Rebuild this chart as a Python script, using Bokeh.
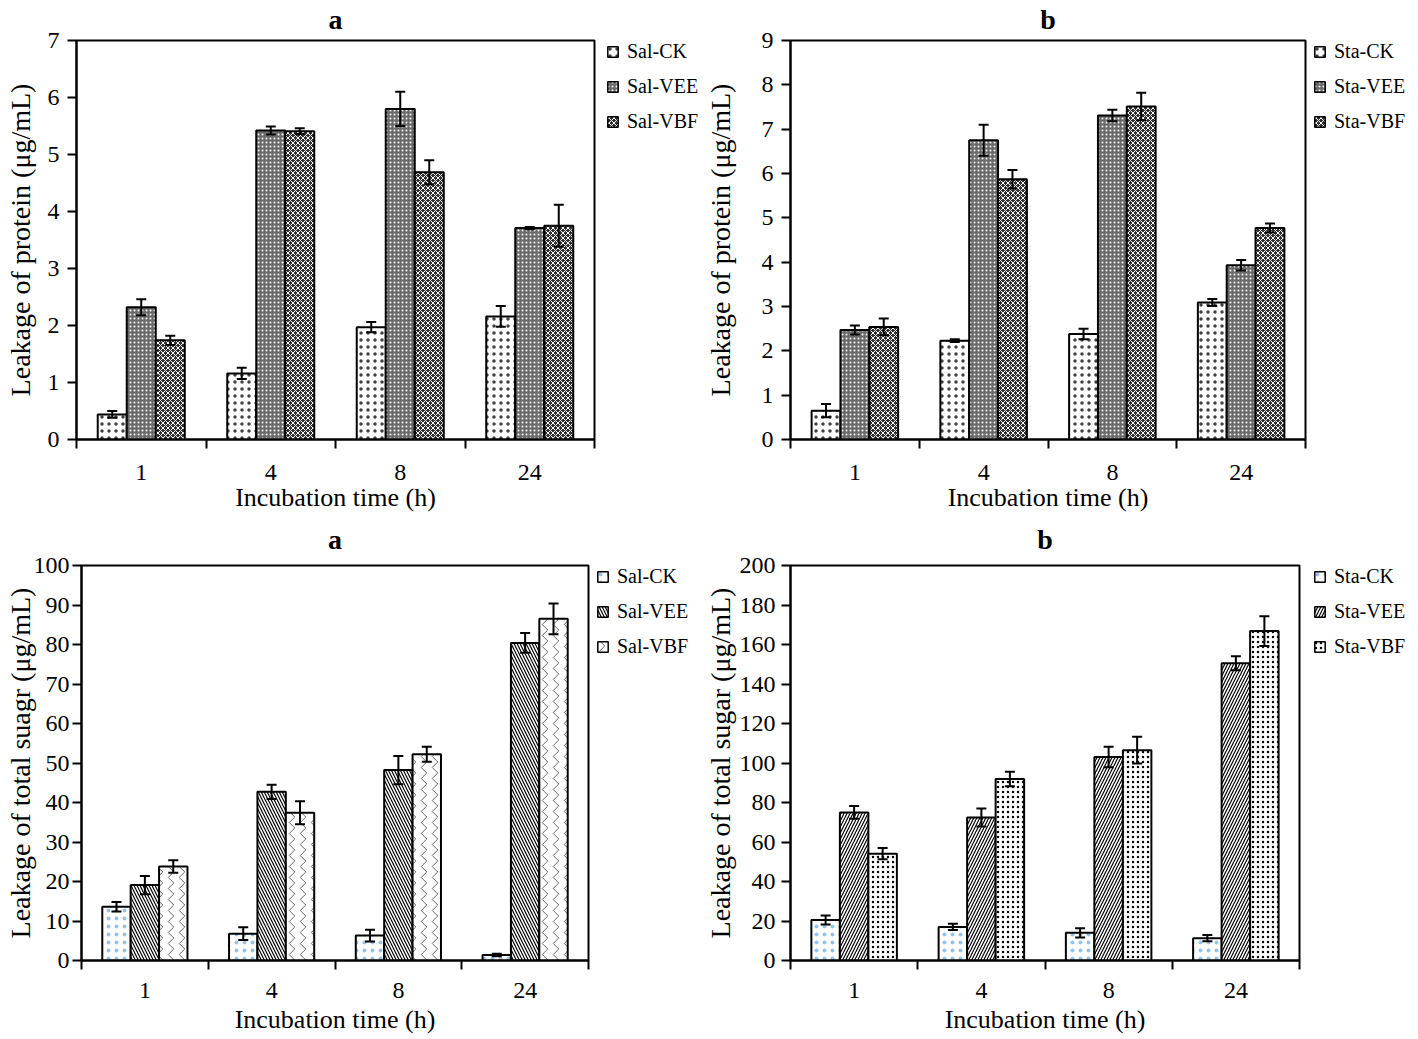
from bokeh.plotting import figure
from bokeh.models import (Range1d, FixedTicker, ColumnDataSource, Whisker,
                          Legend, LegendItem)
from bokeh.layouts import column, row
from bokeh.embed import file_html
from bokeh.resources import INLINE

FONT = "Liberation Serif"

times = ["1", "4", "8", "24"]

# ---- (a) protein, Salmonella ----
sal_protein_names = ["Sal-CK", "Sal-VEE", "Sal-VBF"]
sal_protein_ck = [0.44, 1.16, 1.97, 2.16]
sal_protein_ck_err = [0.06, 0.10, 0.09, 0.18]
sal_protein_vee = [2.32, 5.42, 5.80, 3.71]
sal_protein_vee_err = [0.14, 0.07, 0.30, 0.02]
sal_protein_vbf = [1.74, 5.41, 4.69, 3.75]
sal_protein_vbf_err = [0.08, 0.05, 0.21, 0.37]

# ---- (b) protein, Staphylococcus ----
sta_protein_names = ["Sta-CK", "Sta-VEE", "Sta-VBF"]
sta_protein_ck = [0.65, 2.23, 2.38, 3.09]
sta_protein_ck_err = [0.15, 0.03, 0.12, 0.08]
sta_protein_vee = [2.47, 6.75, 7.31, 3.93]
sta_protein_vee_err = [0.10, 0.35, 0.13, 0.12]
sta_protein_vbf = [2.54, 5.87, 7.51, 4.77]
sta_protein_vbf_err = [0.19, 0.21, 0.31, 0.10]

# ---- (a) total sugar, Salmonella ----
sal_sugar_names = ["Sal-CK", "Sal-VEE", "Sal-VBF"]
sal_sugar_ck = [13.6, 6.8, 6.3, 1.4]
sal_sugar_ck_err = [1.2, 1.6, 1.5, 0.3]
sal_sugar_vee = [19.1, 42.7, 48.2, 80.4]
sal_sugar_vee_err = [2.3, 1.8, 3.6, 2.5]
sal_sugar_vbf = [23.8, 37.4, 52.2, 86.5]
sal_sugar_vbf_err = [1.6, 2.9, 1.9, 3.9]

# ---- (b) total sugar, Staphylococcus ----
sta_sugar_names = ["Sta-CK", "Sta-VEE", "Sta-VBF"]
sta_sugar_ck = [20.5, 17.0, 14.0, 11.3]
sta_sugar_ck_err = [2.3, 1.6, 2.3, 1.6]
sta_sugar_vee = [75.0, 72.4, 103.0, 150.5]
sta_sugar_vee_err = [3.2, 4.5, 5.2, 3.5]
sta_sugar_vbf = [54.1, 91.9, 106.5, 166.8]
sta_sugar_vbf_err = [2.8, 3.7, 6.8, 7.5]

protein_styles = [
    dict(fill_color="white", hatch_pattern="dot", hatch_color="black", hatch_scale=7, hatch_alpha=0.75),
    dict(fill_color="#6a6a6a", hatch_pattern="dot", hatch_color="white", hatch_scale=4, hatch_weight=1.2),
    dict(fill_color="#303030", hatch_pattern="diagonal_cross", hatch_color="white", hatch_scale=5, hatch_weight=1.0),
]
sal_sugar_styles = [
    dict(fill_color="white", hatch_pattern="dot", hatch_color="#6fa8dc", hatch_scale=8, hatch_alpha=0.7),
    dict(fill_color="white", hatch_pattern="left_diagonal_line", hatch_color="black", hatch_scale=6, hatch_weight=1.2),
    dict(fill_color="white", hatch_pattern="vertical_wave", hatch_color="black", hatch_scale=11, hatch_weight=0.6),
]
sta_sugar_styles = [
    dict(fill_color="white", hatch_pattern="dot", hatch_color="#6fa8dc", hatch_scale=8, hatch_alpha=0.7),
    dict(fill_color="white", hatch_pattern="right_diagonal_line", hatch_color="black", hatch_scale=6, hatch_weight=1.2),
    dict(fill_color="white", hatch_pattern="dot", hatch_color="black", hatch_scale=5, hatch_weight=1.0),
]

BW = 0.224


def make_sources(vals, errs):
    centers = list(range(len(times)))
    offsets = [-BW, 0.0, BW]
    srcs = []
    for k in range(3):
        srcs.append(ColumnDataSource(dict(
            x=[c + offsets[k] for c in centers], top=vals[k],
            upper=[v + e for v, e in zip(vals[k], errs[k])],
            lower=[v - e for v, e in zip(vals[k], errs[k])])))
    return srcs


def panel(w, h, bl, br, bt, bb, ymax, ystep, ylabel, title, title_standoff,
          srcs, styles,
          ytick_standoff, ylabel_standoff, xtick_standoff, xlabel_standoff):
    p = figure(width=w, height=h, x_range=Range1d(-0.5, 3.5), y_range=Range1d(0, ymax),
               output_backend="svg", toolbar_location=None,
               min_border_left=bl, min_border_right=br,
               min_border_top=bt, min_border_bottom=bb)
    p.xgrid.visible = False
    p.ygrid.visible = False
    p.outline_line_color = "black"
    p.outline_line_width = 2
    p.outline_line_alpha = 1
    p.background_fill_color = "white"
    p.border_fill_color = "white"

    p.title.text = title
    p.title.align = "center"
    p.title.vertical_align = "top"
    p.title.text_font = FONT
    p.title.text_font_style = "bold"
    p.title.text_font_size = "28px"
    p.title.text_color = "black"
    p.title.standoff = title_standoff

    for k in range(3):
        p.vbar(x="x", top="top", bottom=0, width=BW, source=srcs[k],
               line_color="black", line_width=2, **styles[k])
        wk = Whisker(base="x", upper="upper", lower="lower", source=srcs[k],
                     line_color="black", line_width=2, level="overlay")
        wk.upper_head.size = 10
        wk.upper_head.line_width = 2
        wk.lower_head.size = 10
        wk.lower_head.line_width = 2
        p.add_layout(wk)

    centers = list(range(len(times)))
    xa = p.xaxis[0]
    xa.ticker = FixedTicker(ticks=centers, minor_ticks=[-0.5, 0.5, 1.5, 2.5, 3.5])
    xa.major_label_overrides = {i: t for i, t in enumerate(times)}
    xa.major_tick_line_color = None
    xa.minor_tick_in = 0
    xa.minor_tick_out = 9
    xa.minor_tick_line_width = 2
    xa.minor_tick_line_color = "black"
    xa.axis_line_width = 2
    xa.axis_line_color = "black"
    xa.major_label_text_font = FONT
    xa.major_label_text_font_size = "24px"
    xa.major_label_text_color = "black"
    xa.major_label_standoff = xtick_standoff
    xa.axis_label = "Incubation time (h)"
    xa.axis_label_text_font = FONT
    xa.axis_label_text_font_style = "normal"
    xa.axis_label_text_font_size = "26px"
    xa.axis_label_text_color = "black"
    xa.axis_label_standoff = xlabel_standoff

    ya = p.yaxis[0]
    ya.ticker = FixedTicker(ticks=list(range(0, ymax + 1, ystep)))
    ya.minor_tick_line_color = None
    ya.major_tick_in = 0
    ya.major_tick_out = 9
    ya.major_tick_line_width = 2
    ya.major_tick_line_color = "black"
    ya.axis_line_width = 2
    ya.axis_line_color = "black"
    ya.major_label_text_font = FONT
    ya.major_label_text_font_size = "24px"
    ya.major_label_text_color = "black"
    ya.major_label_standoff = ytick_standoff
    ya.axis_label = ylabel
    ya.axis_label_text_font = FONT
    ya.axis_label_text_font_style = "normal"
    ya.axis_label_text_font_size = "28px"
    ya.axis_label_text_color = "black"
    ya.axis_label_standoff = ylabel_standoff
    return p


def legend_box(w, h, xoff, bt, bb, names, srcs, styles):
    # side box that only holds the legend; its bar renderers are hidden and
    # serve solely as the legend swatches
    lg = figure(width=w, height=h, x_range=Range1d(-0.5, 3.5), y_range=Range1d(0, 1),
                output_backend="svg", toolbar_location=None,
                x_axis_type=None, y_axis_type=None,
                min_border_left=xoff, min_border_right=0,
                min_border_top=bt, min_border_bottom=bb)
    lg.xgrid.visible = False
    lg.ygrid.visible = False
    lg.outline_line_color = None
    lg.background_fill_color = "white"
    lg.border_fill_color = "white"
    items = []
    for k in range(3):
        r = lg.vbar(x="x", top="top", bottom=0, width=BW, source=srcs[k],
                    line_color="black", line_width=1.5, **styles[k])
        r.visible = False
        items.append(LegendItem(label=names[k], renderers=[r]))
    legend = Legend(items=items, location="top_left",
                    border_line_color=None, background_fill_alpha=0,
                    padding=0, margin=0, spacing=12,
                    glyph_width=13, glyph_height=13, label_height=20,
                    label_standoff=8, label_text_font=FONT,
                    label_text_font_size="20px", label_text_color="black")
    lg.add_layout(legend)
    return lg


s1 = make_sources([sal_protein_ck, sal_protein_vee, sal_protein_vbf],
                  [sal_protein_ck_err, sal_protein_vee_err, sal_protein_vbf_err])
s2 = make_sources([sta_protein_ck, sta_protein_vee, sta_protein_vbf],
                  [sta_protein_ck_err, sta_protein_vee_err, sta_protein_vbf_err])
s3 = make_sources([sal_sugar_ck, sal_sugar_vee, sal_sugar_vbf],
                  [sal_sugar_ck_err, sal_sugar_vee_err, sal_sugar_vbf_err])
s4 = make_sources([sta_sugar_ck, sta_sugar_vee, sta_sugar_vbf],
                  [sta_sugar_ck_err, sta_sugar_vee_err, sta_sugar_vbf_err])

p1 = panel(596, 514, 76, 2, 40, 74, 7, 1, "Leakage of protein (μg/mL)", "a", 7,
           s1, protein_styles, 8, 9, 16, 0)
l1 = legend_box(104, 514, 10, 40, 74, sal_protein_names, s1, protein_styles)
p2 = panel(607, 514, 90, 2, 40, 74, 9, 1, "Leakage of protein (μg/mL)", "b", 7,
           s2, protein_styles, 8, 23, 16, 0)
l2 = legend_box(103, 514, 6, 40, 74, sta_protein_names, s2, protein_styles)
p3 = panel(590, 522, 81, 2, 51, 76, 100, 10, "Leakage of total suagr (μg/mL)", "a", 18,
           s3, sal_sugar_styles, 3, -5, 13, 4)
l3 = legend_box(110, 522, 6, 51, 76, sal_sugar_names, s3, sal_sugar_styles)
p4 = panel(601, 522, 90, 2, 51, 76, 200, 20, "Leakage of total sugar (μg/mL)", "b", 18,
           s4, sta_sugar_styles, 6, 1, 13, 4)
l4 = legend_box(109, 522, 12, 51, 76, sta_sugar_names, s4, sta_sugar_styles)

layout = column(row(p1, l1, p2, l2), row(p3, l3, p4, l4))
open("out.html", "w").write(file_html(layout, INLINE))
